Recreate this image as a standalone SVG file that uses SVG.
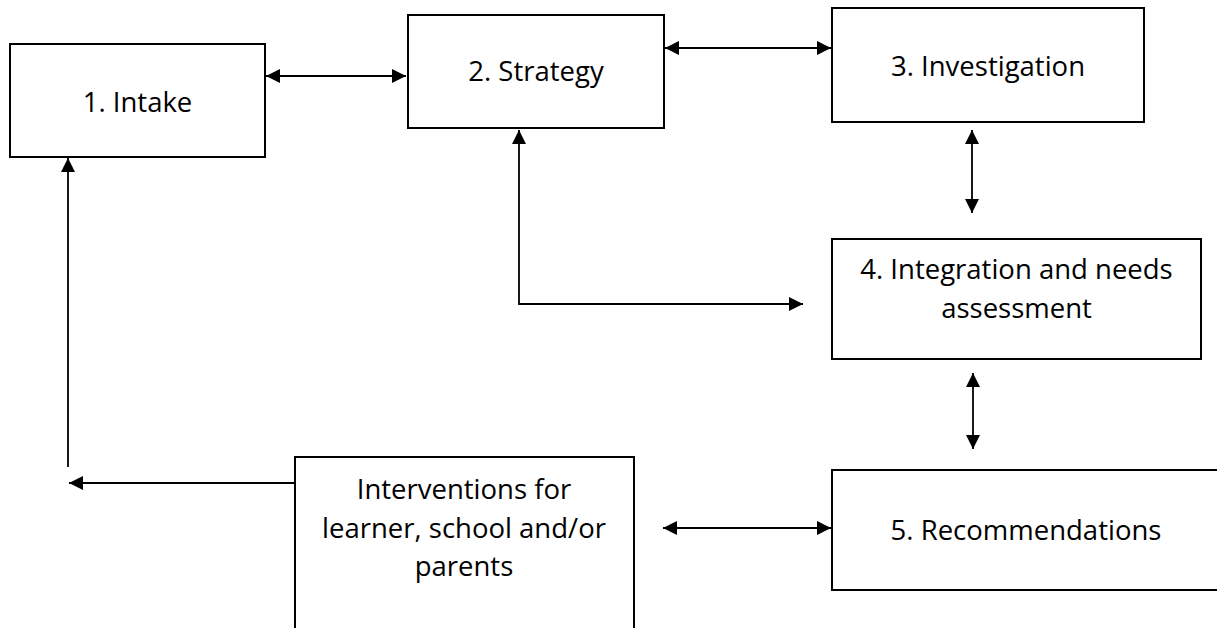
<svg xmlns="http://www.w3.org/2000/svg" width="1217" height="628" viewBox="0 0 1217 628">
<style>
.box{fill:#fff;stroke:#000;stroke-width:2}
.lbl{font-family:"Open Sans","Liberation Sans",sans-serif;font-size:27.5px;fill:#000;text-anchor:middle}
.con{fill:none;stroke:#000;stroke-width:1.8}
</style>
<defs>
<marker id="ah" viewBox="0 0 14 14" refX="14" refY="7" markerWidth="14" markerHeight="14" markerUnits="userSpaceOnUse" orient="auto-start-reverse">
<path d="M0,0 L14,7 L0,14 Z" fill="#000"/>
</marker>
</defs>
<rect width="1217" height="628" fill="#fff"/>
<g id="connectors">
<line class="con" x1="266" y1="76" x2="406" y2="76" marker-start="url(#ah)" marker-end="url(#ah)"/>
<line class="con" x1="665" y1="48" x2="831" y2="48" marker-start="url(#ah)" marker-end="url(#ah)"/>
<line class="con" x1="972" y1="130" x2="972" y2="213" marker-start="url(#ah)" marker-end="url(#ah)"/>
<path class="con" d="M519,130 L519,304 L803,304" marker-start="url(#ah)" marker-end="url(#ah)"/>
<line class="con" x1="973" y1="373" x2="973" y2="449" marker-start="url(#ah)" marker-end="url(#ah)"/>
<line class="con" x1="663" y1="528" x2="831" y2="528" marker-start="url(#ah)" marker-end="url(#ah)"/>
<line class="con" x1="294" y1="483" x2="69" y2="483" marker-end="url(#ah)"/>
<line class="con" x1="68" y1="467" x2="68" y2="158" marker-end="url(#ah)"/>
</g>
<g id="intake">
<rect class="box" x="10" y="44" width="255" height="113"/>
<text class="lbl" x="137.5" y="112">1. Intake</text>
</g>
<g id="strategy">
<rect class="box" x="408" y="15" width="256" height="113"/>
<text class="lbl" x="536" y="81">2. Strategy</text>
</g>
<g id="investigation">
<rect class="box" x="832" y="8" width="312" height="114"/>
<text class="lbl" x="988" y="76">3. Investigation</text>
</g>
<g id="integration">
<rect class="box" x="832" y="239" width="369" height="120"/>
<text class="lbl" x="1016.5" y="279">4. Integration and needs</text>
<text class="lbl" x="1016.5" y="318">assessment</text>
</g>
<g id="recommendations">
<rect class="box" x="832" y="470" width="420" height="120"/>
<text class="lbl" x="1026" y="540">5. Recommendations</text>
</g>
<g id="interventions">
<rect class="box" x="295" y="457" width="339" height="200"/>
<text class="lbl" x="464" y="499">Interventions for</text>
<text class="lbl" x="464" y="538">learner, school and/or</text>
<text class="lbl" x="464" y="576">parents</text>
</g>
</svg>
